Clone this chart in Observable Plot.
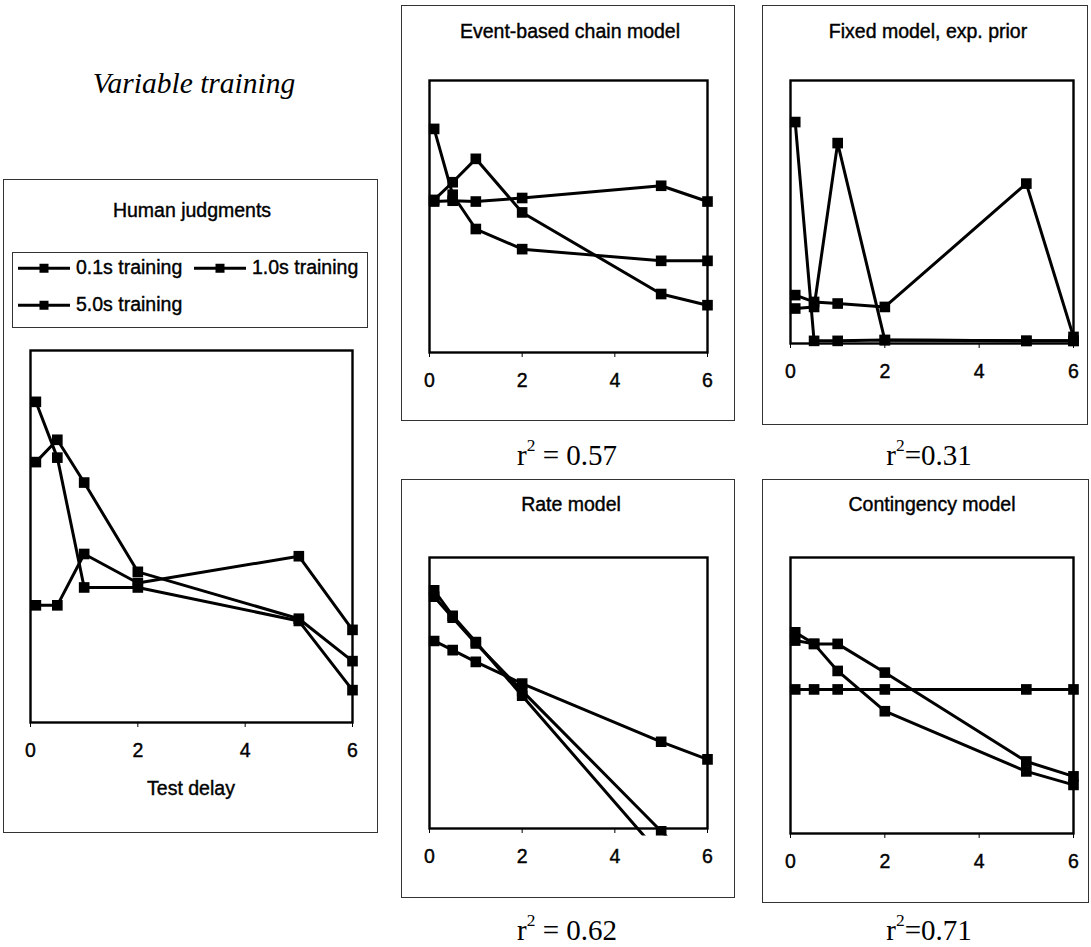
<!DOCTYPE html>
<html>
<head>
<meta charset="utf-8">
<script src="https://cdn.jsdelivr.net/npm/d3@7"></script>
<script src="https://cdn.jsdelivr.net/npm/@observablehq/plot@0.6"></script>
<style>
  html, body { margin: 0; padding: 0; background: #fff; }
  #root { position: relative; width: 1091px; height: 947px; overflow: hidden; background: #fff; }
  .box { position: absolute; border: 1px solid #333; box-sizing: border-box; }
  .txt { position: absolute; white-space: nowrap; line-height: 1; transform: translate(-50%, -50%); color: #000; }
  .sans { font-family: 'Liberation Sans', Arial, sans-serif; font-size: 19.5px; -webkit-text-stroke: 0.4px #000; }
  .serif { font-family: 'Liberation Serif', 'Times New Roman', serif; font-size: 29px; }
  .serif sup { font-size: 0.6em; vertical-align: 0.75em; line-height: 0; }
  .leg { position: absolute; font-family: 'Liberation Sans', Arial, sans-serif; font-size: 19.5px; -webkit-text-stroke: 0.4px #000; line-height: 1; white-space: nowrap; display: flex; align-items: center; transform: translateY(-50%); }
  .leg svg { margin-right: 6px; }
  #root svg text { stroke: #000; stroke-width: 0.4px; }
</style>
</head>
<body>
<div id="root"></div>
<script>
// ---------- data ----------
const delays = [0.1, 0.5, 1, 2, 5, 6];
const trainingLabels = ["0.1s training", "1.0s training", "5.0s training"];
const xTicks = [0, 2, 4, 6];

// Human judgments (fraction of the plot height)
const human01 = [0.862, 0.712, 0.363, 0.363, 0.273, 0.087];
const human10 = [0.700, 0.760, 0.645, 0.405, 0.279, 0.165];
const human50 = [0.315, 0.315, 0.453, 0.375, 0.447, 0.249];

// Event-based chain model
const event01 = [0.822, 0.580, 0.454, 0.380, 0.337, 0.337];
const event10 = [0.561, 0.626, 0.712, 0.515, 0.215, 0.174];
const event50 = [0.555, 0.558, 0.555, 0.568, 0.613, 0.555];

// Fixed model, exp. prior
const fixed01 = [0.842, 0.010, 0.010, 0.013, 0.010, 0.010];
const fixed10 = [0.133, 0.139, 0.762, 0.013, 0.010, 0.010];
const fixed50 = [0.184, 0.158, 0.152, 0.139, 0.608, 0.025];

// Rate model
const rate01 = [0.879, 0.785, 0.688, 0.490, -0.100, -0.300];
const rate10 = [0.855, 0.778, 0.683, 0.508, -0.010, -0.180];
const rate50 = [0.692, 0.658, 0.615, 0.535, 0.320, 0.255];

// Contingency model
const cont01 = [0.729, 0.687, 0.589, 0.443, 0.225, 0.176];
const cont10 = [0.699, 0.687, 0.687, 0.583, 0.261, 0.207];
const cont50 = [0.522, 0.522, 0.522, 0.522, 0.522, 0.522];

const panelTitles = ["Human judgments", "Event-based chain model", "Fixed model, exp. prior", "Rate model", "Contingency model"];
const fitLabels = ["r<sup>2</sup> = 0.57", "r<sup>2</sup>=0.31", "r<sup>2</sup> = 0.62", "r<sup>2</sup>=0.71"];

// ---------- layout ----------
const root = document.getElementById("root");
function addText(html, cx, cy, cls, extra) {
  const d = document.createElement("div");
  d.className = "txt " + cls;
  d.innerHTML = html;
  d.style.left = cx + "px";
  d.style.top = cy + "px";
  if (extra) Object.assign(d.style, extra);
  root.appendChild(d);
  return d;
}
function addBox(b) {
  const d = document.createElement("div");
  d.className = "box";
  d.style.left = b[0] + "px"; d.style.top = b[1] + "px";
  d.style.width = (b[2] - b[0]) + "px"; d.style.height = (b[3] - b[1]) + "px";
  root.appendChild(d);
}

const panels = [
  {title: panelTitles[0], series: [human01, human10, human50], box: [3, 179, 378, 833], plot: [30, 350, 352, 722], titleAt: [192, 211]},
  {title: panelTitles[1], series: [event01, event10, event50], box: [401, 5, 735, 421], plot: [429, 80, 707, 352], titleAt: [570, 32]},
  {title: panelTitles[2], series: [fixed01, fixed10, fixed50], box: [762, 5, 1088, 425], plot: [790, 80, 1073, 343], titleAt: [928, 32]},
  {title: panelTitles[3], series: [rate01, rate10, rate50], box: [401, 479, 735, 898], plot: [429, 557, 707, 828], titleAt: [571, 505], clipBelow: 7},
  {title: panelTitles[4], series: [cont01, cont10, cont50], box: [762, 479, 1089, 903], plot: [790, 557, 1073, 833], titleAt: [932, 505]}
];

function drawPanel(p) {
  addBox(p.box);
  addText(p.title, p.titleAt[0], p.titleAt[1], "sans");
  const mL = 20, mR = 20, mT = 15, mB = 45;
  const w = p.plot[2] - p.plot[0], h = p.plot[3] - p.plot[1];
  const data = [];
  p.series.forEach((vals, i) => vals.forEach((v, j) => data.push({delay: delays[j], value: v, training: trainingLabels[i]})));
  const chart = Plot.plot({
    width: w + mL + mR,
    height: h + mT + mB,
    marginLeft: mL, marginRight: mR, marginTop: mT, marginBottom: mB,
    style: {fontFamily: "'Liberation Sans', Arial, sans-serif", fontSize: "19.5px", color: "black", background: "transparent", overflow: "visible"},
    x: {domain: [0, 6], ticks: xTicks, tickSize: 5, tickPadding: 16, label: null, tickFormat: d => String(d)},
    y: {domain: [0, 1], axis: null},
    marks: [
      Plot.frame({stroke: "black", strokeWidth: 2.4}),
      Plot.line(data, {x: "delay", y: "value", z: "training", stroke: "black", strokeWidth: 3}),
      Plot.dot(data, {x: "delay", y: "value", symbol: "square", r: 6, fill: "black", stroke: "none"})
    ]
  });
  chart.style.position = "absolute";
  chart.style.left = (p.plot[0] - mL) + "px";
  chart.style.top = (p.plot[1] - mT) + "px";
  if (p.clipBelow) {
    const svg = d3.select(chart);
    const id = "clip-" + Math.random().toString(36).slice(2);
    svg.append("defs").append("clipPath").attr("id", id)
      .append("rect").attr("x", mL - 15).attr("y", mT - 15)
      .attr("width", w + 30).attr("height", h + 15 + p.clipBelow);
    svg.selectAll('g[aria-label="line"], g[aria-label="dot"]').attr("clip-path", `url(#${id})`);
  }
  root.appendChild(chart);
}
panels.forEach(drawPanel);

// heading and axis label
addText("Variable training", 194, 84, "serif", {fontStyle: "italic", fontSize: "29.5px"});
addText("Test delay", 191, 789, "sans");

// r-squared labels
addText(fitLabels[0], 567, 455, "serif");
addText(fitLabels[1], 929, 455, "serif");
addText(fitLabels[2], 567, 930, "serif");
addText(fitLabels[3], 929, 930, "serif");

// legend
addBox([12, 252, 368, 328]);
function sample() {
  return `<svg width="52" height="12" viewBox="0 0 52 12"><line x1="0" y1="6" x2="52" y2="6" stroke="black" stroke-width="3"/><rect x="21.5" y="1.5" width="9" height="9" fill="black"/></svg>`;
}
const legendPos = [[18, 268], [194, 268], [18, 305]];
trainingLabels.forEach((t, i) => {
  const d = document.createElement("div");
  d.className = "leg";
  d.innerHTML = sample() + `<span>${t}</span>`;
  d.style.left = legendPos[i][0] + "px";
  d.style.top = legendPos[i][1] + "px";
  root.appendChild(d);
});
</script>
</body>
</html>
